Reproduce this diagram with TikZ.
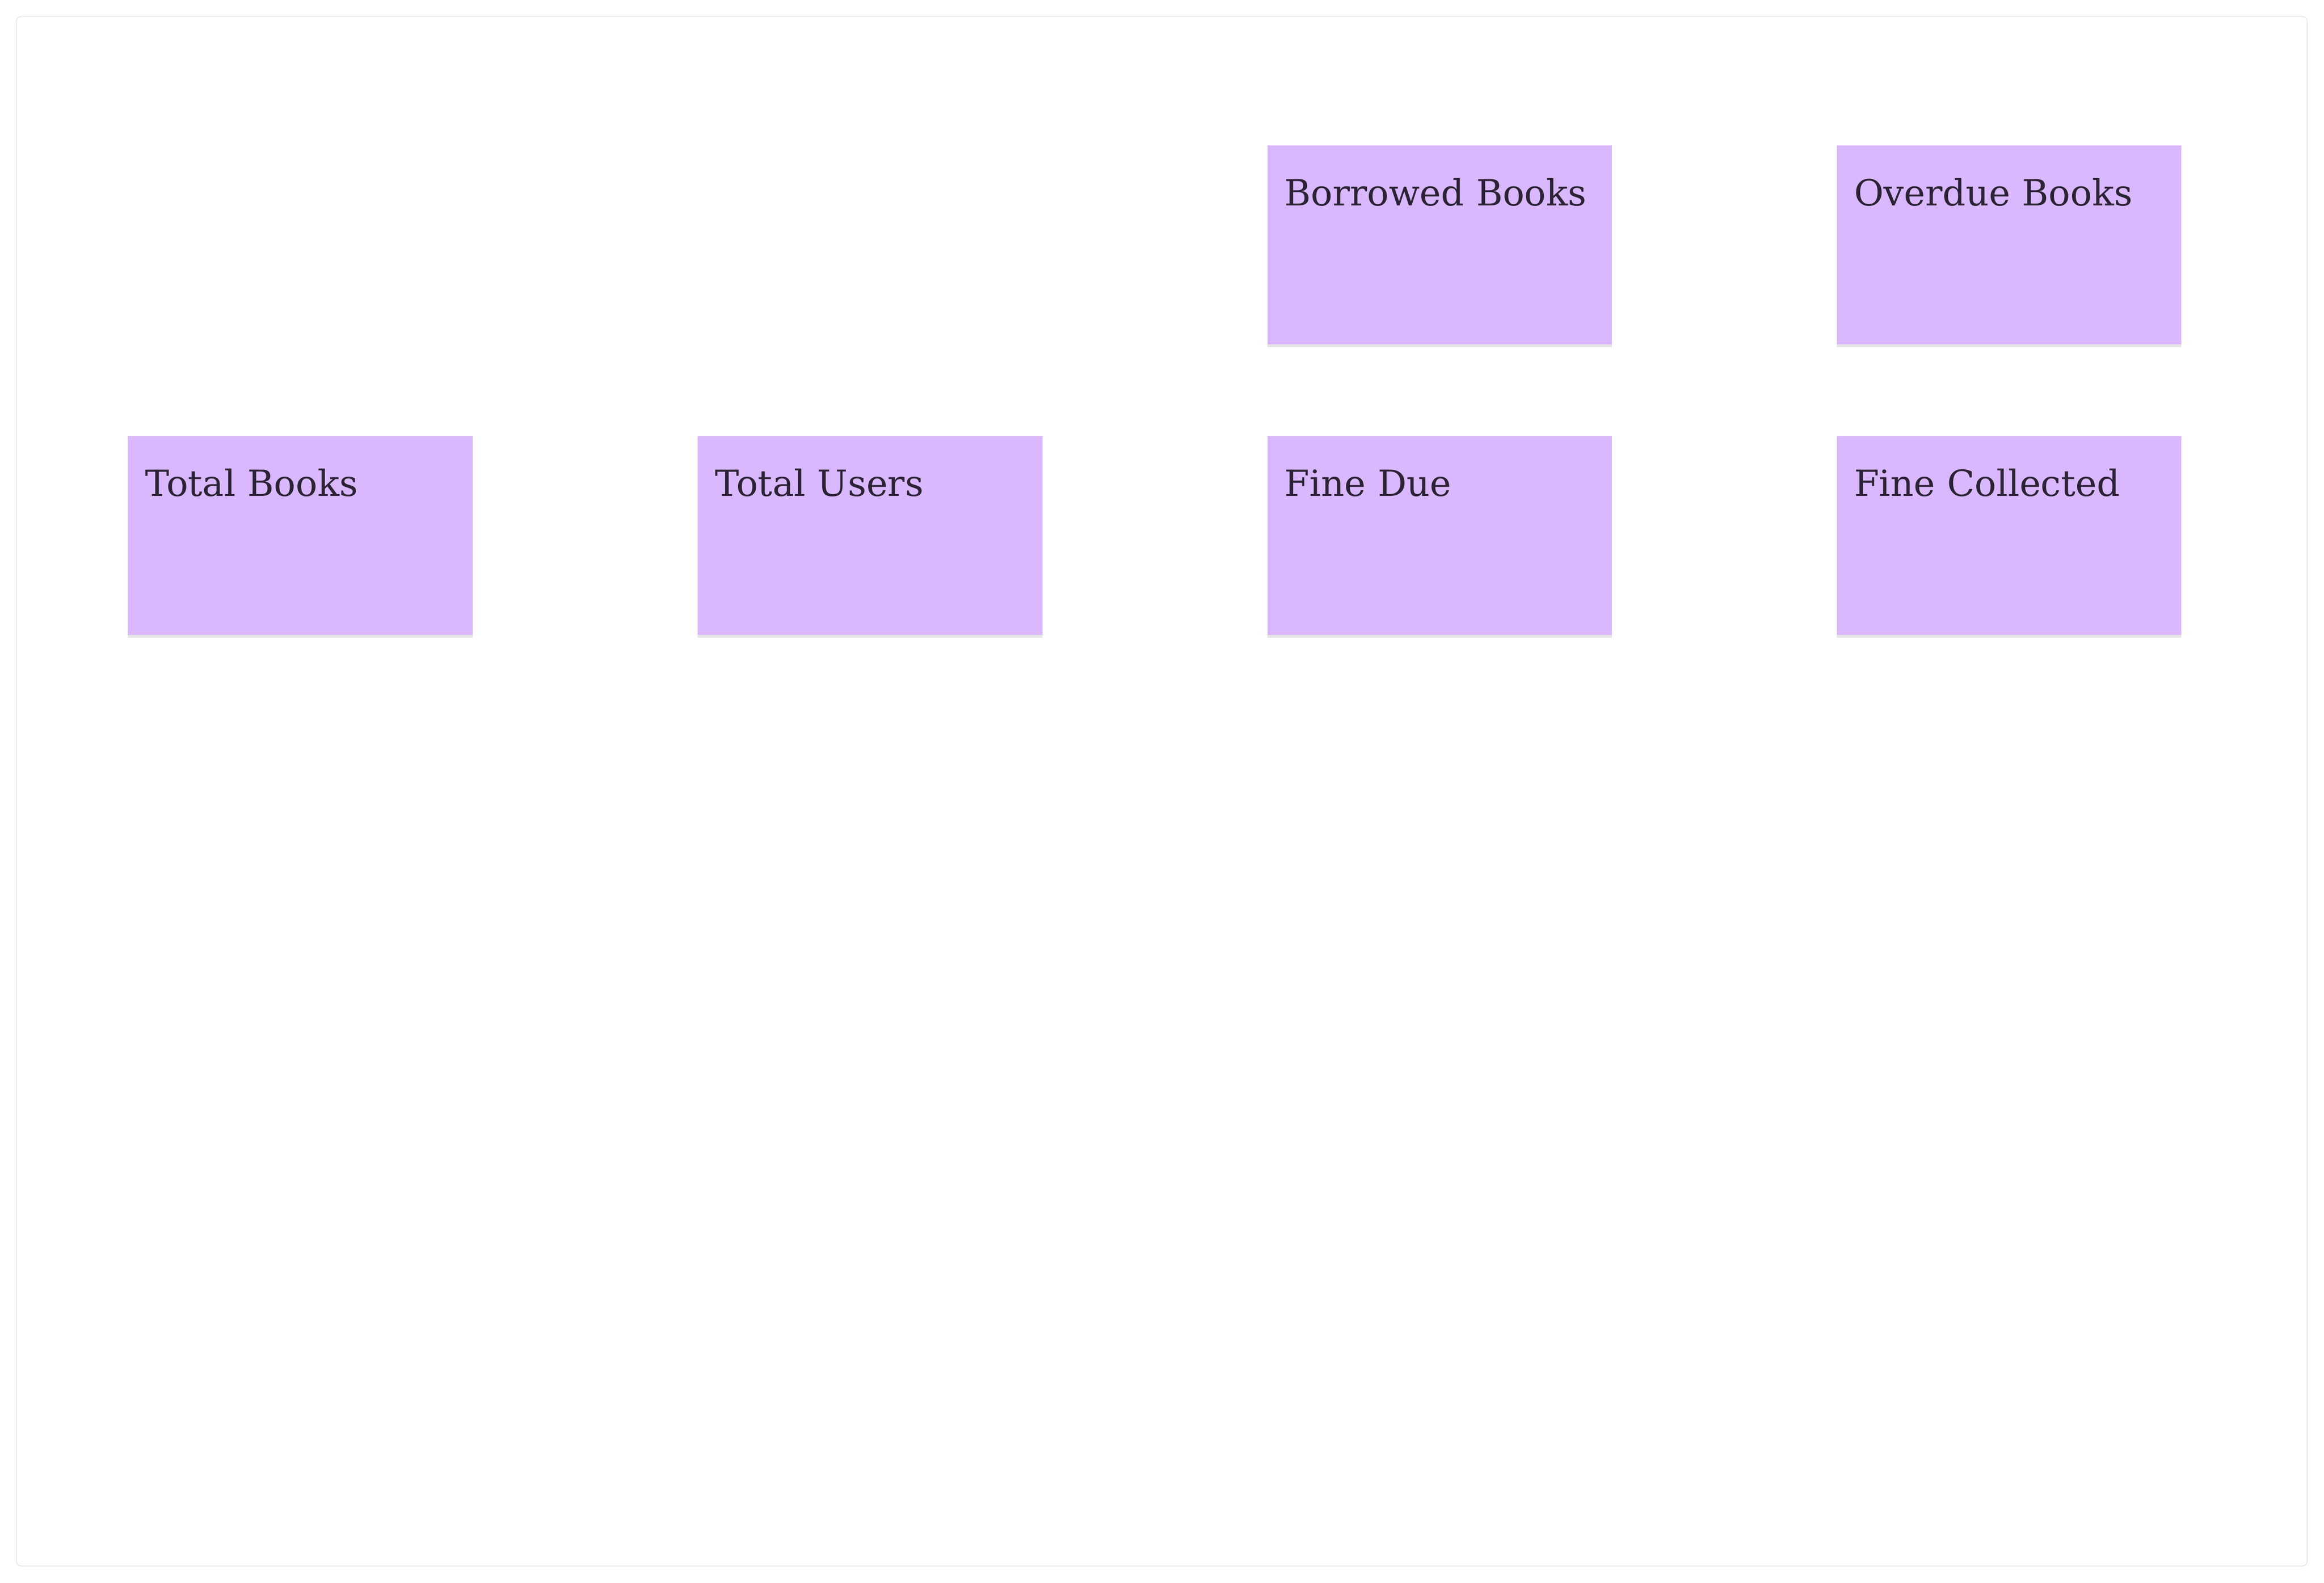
\documentclass[tikz,border=0pt]{standalone}
\usepackage{fontspec}
\setmainfont{DejaVu Serif}
\usepackage{tikz}
\usetikzlibrary{positioning}
\usetikzlibrary{shadows}

\definecolor{notefill}{HTML}{D9B8FD}
\definecolor{notetext}{HTML}{2B2335}
\definecolor{framegray}{HTML}{E6E6E6}

\begin{document}
\begin{tikzpicture}[
		note/.style={anchor=north west, fill=notefill, text=notetext,
			text width=7.56cm, inner xsep=0.42cm, inner ysep=0pt,
			text height=1.46cm, text depth=3.39cm, align=left,
			font=\fontsize{25}{30}\selectfont,
			drop shadow={shadow xshift=0pt, shadow yshift=-0.07cm, opacity=0.1, fill=black}}
	]
		\useasboundingbox (0,0) rectangle (56.64,-38.58);
		% board frame
		\draw[framegray, line width=0.02cm, rounded corners=0.12cm]
			(0.40,-0.40) rectangle (56.23,-38.17);
		% top row
		\node[note] (borrowed) at (30.88,-3.54) {Borrowed Books};
		\node[note] (overdue) at (44.76,-3.54) {Overdue Books};
		% second row
		\node[note] (totalbooks) at (3.11,-10.62) {Total Books};
		\node[note] (totalusers) at (17.00,-10.62) {Total Users};
		\node[note] (finedue) at (30.88,-10.62) {Fine Due};
		\node[note] (finecoll) at (44.76,-10.62) {Fine Collected};
	\end{tikzpicture}
\end{document}
